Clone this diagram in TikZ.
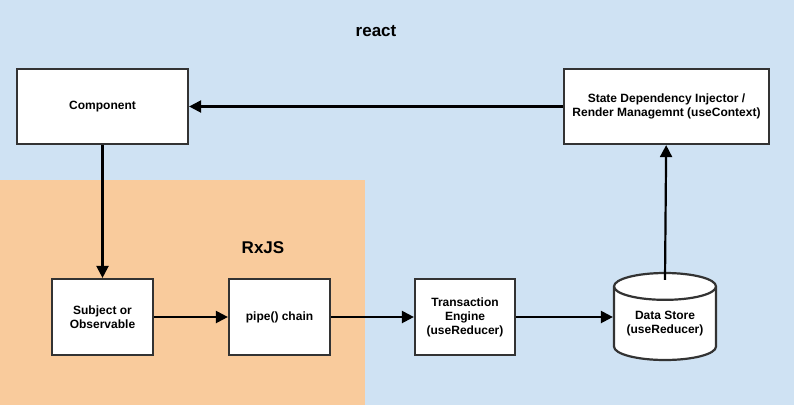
\documentclass[tikz,border=0pt]{standalone}
\usepackage{fontspec}
\setmainfont{Liberation Sans}
\usetikzlibrary{shapes.geometric,arrows.meta}
\definecolor{reactbg}{HTML}{CFE2F3}
\definecolor{rxjsbg}{HTML}{F9CB9C}
\definecolor{boxline}{HTML}{333333}
\begin{document}
\begin{tikzpicture}[x=1pt,y=-1pt,
	box/.style={draw=boxline,line width=2.2pt,fill=white,align=center,
		font=\fontsize{12}{14}\selectfont\bfseries,inner sep=0pt},
	flow/.style={line width=2.2pt,-{Triangle[length=12pt,width=12pt]}},
	area/.style={font=\fontsize{17}{20}\selectfont\bfseries}]
	\fill[reactbg] (0,0) rectangle (794,405);
	\useasboundingbox (0,0) rectangle (794,405);
	\fill[rxjsbg] (0,180) rectangle (365,405);
	\node[area] (react) at (376,31) {react};
	\node[area] (rxjs) at (263,248) {RxJS};
	\node[box,minimum width=171pt,minimum height=75pt] (comp) at (102.5,106.5) {Component};
	\node[box,minimum width=205pt,minimum height=75pt] (state) at (666.5,106.5) {State Dependency Injector /\\Render Managemnt (useContext)};
	\node[box,minimum width=101pt,minimum height=76pt] (subj) at (102.5,317) {Subject or\\Observable};
	\node[box,minimum width=101pt,minimum height=76pt] (pipe) at (279.5,317) {pipe() chain};
	\node[box,minimum width=100pt,minimum height=76pt] (trans) at (465,317) {Transaction\\Engine\\(useReducer)};
	\node[box,cylinder,shape border rotate=90,aspect=0.35,anchor=shape center,
		minimum width=102pt,minimum height=87pt] (store) at (665,316.5) {Data Store\\(useReducer)};
	\draw[flow] (state) -- (comp);
	\draw[flow] (comp) -- (subj);
	\draw[flow] (subj) -- (pipe);
	\draw[flow] (pipe) -- (trans);
	\draw[flow] (trans.east) -- (trans.east -| store.west);
	\draw[flow] ([yshift=-8pt]store.north) -- (state);
\end{tikzpicture}
\end{document}
